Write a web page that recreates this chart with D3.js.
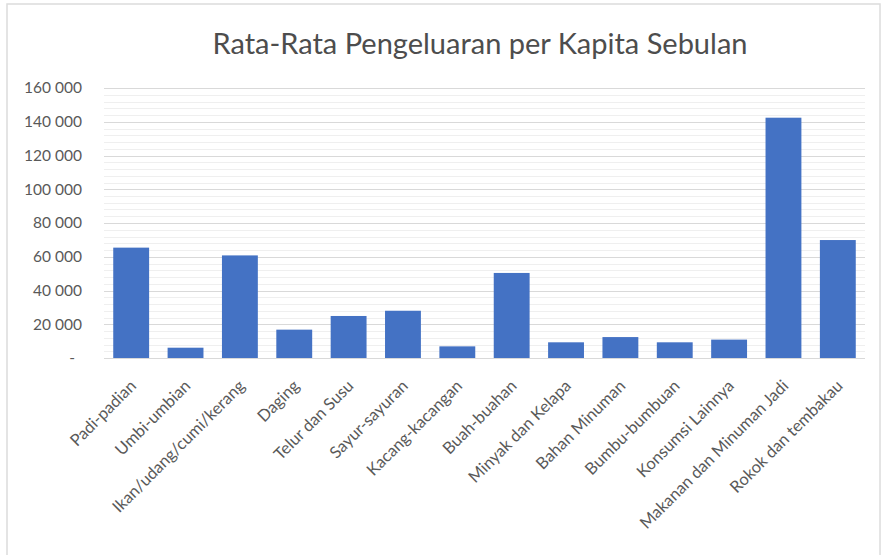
<!DOCTYPE html>
<html>
<head>
<meta charset="utf-8">
<script src="https://cdn.jsdelivr.net/npm/d3@7"></script>
<style>
  body { margin: 0; background: #fff; }
  .axisText { font-family: Lato, "Open Sans", sans-serif; fill: #595959; }
</style>
</head>
<body>
<div id="chart"></div>
<script>
//chart data
var categories = ["Padi-padian", "Umbi-umbian", "Ikan/udang/cumi/kerang", "Daging", "Telur dan Susu",
  "Sayur-sayuran", "Kacang-kacangan", "Buah-buahan", "Minyak dan Kelapa", "Bahan Minuman",
  "Bumbu-bumbuan", "Konsumsi Lainnya", "Makanan dan Minuman Jadi", "Rokok dan tembakau"];
var values = [65400, 6100, 60800, 16800, 24900, 28000, 6900, 50400, 9300, 12400, 9300, 10900, 142400, 69900];
var yTicks = [0, 20000, 40000, 60000, 80000, 100000, 120000, 140000, 160000];
var chartTitle = "Rata-Rata Pengeluaran per Kapita Sebulan";

//static svg/chart variables
var svgWidth = 886;
var svgHeight = 555;
var margin = { top: 88, right: 21, bottom: 197, left: 104 };
var chartWidth = svgWidth - margin.left - margin.right;
var chartHeight = svgHeight - margin.top - margin.bottom;

var svg = d3.select('#chart')
  .append('svg')
  .attr('width', svgWidth)
  .attr('height', svgHeight);

//frame
svg.append('rect')
  .attr('x', 7).attr('y', 4)
  .attr('width', 873).attr('height', 560)
  .attr('fill', 'none')
  .attr('stroke', '#dcdcdc')
  .attr('stroke-width', 1.5);

var chartGroup = svg.append('g')
  .attr('transform', `translate(${margin.left}, ${margin.top})`);

//scales
var xScale = d3.scaleBand()
  .domain(categories)
  .range([0, chartWidth])
  .paddingInner(0.34)
  .paddingOuter(0.17);

var yScale = d3.scaleLinear()
  .domain([0, 160000])
  .range([chartHeight, 0]);

//minor gridlines
chartGroup.append('g')
  .selectAll('line')
  .data(d3.range(0, 160001, 4000).filter(d => d % 20000 !== 0))
  .enter()
  .append('line')
  .attr('x1', 0).attr('x2', chartWidth)
  .attr('y1', d => Math.round(yScale(d)) + 0.5)
  .attr('y2', d => Math.round(yScale(d)) + 0.5)
  .attr('stroke', '#efefef');

//major gridlines
chartGroup.append('g')
  .selectAll('line')
  .data(yTicks)
  .enter()
  .append('line')
  .attr('x1', 0).attr('x2', chartWidth)
  .attr('y1', d => Math.round(yScale(d)) + 0.5)
  .attr('y2', d => Math.round(yScale(d)) + 0.5)
  .attr('stroke', '#d9d9d9')
  .attr('stroke-width', 1.2);

//y axis
var yAxis = d3.axisLeft(yScale)
  .tickValues(yTicks)
  .tickSize(0)
  .tickPadding(22)
  .tickFormat(d => d === 0 ? '-' : d3.format(',')(d).replace(/,/g, ' '));
var yG = chartGroup.append('g').call(yAxis);
yG.select('.domain').remove();
yG.selectAll('text').attr('class', 'axisText').style('font-size', '15.5px');
yG.selectAll('text').filter(d => d === 0).attr('dx', -7);

//bars
chartGroup.selectAll('rect.bar')
  .data(values)
  .enter()
  .append('rect')
  .attr('class', 'bar')
  .attr('x', (d, i) => xScale(categories[i]))
  .attr('y', d => yScale(d))
  .attr('width', xScale.bandwidth())
  .attr('height', d => chartHeight - yScale(d))
  .attr('fill', '#4472c4');

//x axis
var xAxis = d3.axisBottom(xScale).tickSize(0).tickPadding(0);
var xG = chartGroup.append('g')
  .attr('transform', `translate(0, ${chartHeight})`)
  .call(xAxis);
xG.select('.domain').remove();
xG.selectAll('text')
  .attr('class', 'axisText')
  .style('font-size', '16.5px')
  .style('text-anchor', 'end')
  .attr('dy', null)
  .attr('y', 0)
  .attr('transform', 'translate(6, 29) rotate(-45)');

//title
svg.append('text')
  .attr('x', 480)
  .attr('y', 54)
  .attr('text-anchor', 'middle')
  .style('font-family', 'Lato, "Open Sans", sans-serif')
  .style('font-size', '29px')
  .style('fill', '#4d4d4d')
  .text(chartTitle);
</script>
</body>
</html>
